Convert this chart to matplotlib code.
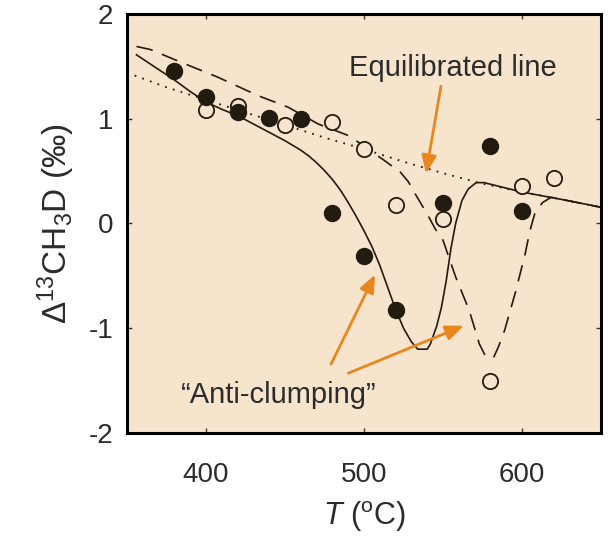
import numpy as np
import matplotlib
matplotlib.use('Agg')
from matplotlib import pyplot as plt

plt.rcParams['font.family'] = ['Liberation Sans', 'DejaVu Sans']
plt.rcParams['mathtext.fontset'] = 'custom'
plt.rcParams['mathtext.rm'] = 'Liberation Sans'
plt.rcParams['mathtext.it'] = 'Liberation Sans:italic'
plt.rcParams['axes.unicode_minus'] = False

# muestras medidas (T en C, D13CH3D en permil)
T_lleno = [380, 400, 420, 440, 460, 480, 500, 520, 550, 580, 600]
d_lleno = [1.46, 1.21, 1.06, 1.01, 1.00, 0.10, -0.31, -0.83, 0.20, 0.74, 0.12]
T_hueco = [400, 420, 450, 480, 500, 520, 550, 580, 600, 620]
d_hueco = [1.08, 1.12, 0.94, 0.97, 0.71, 0.18, 0.04, -1.50, 0.36, 0.43]

# linea de equilibrio
T_eq = [350, 375, 400, 425, 450, 475, 500, 525, 550, 575, 600, 625, 650]
d_eq = [1.44, 1.30, 1.18, 1.06, 0.94, 0.82, 0.71, 0.59, 0.48, 0.38, 0.30, 0.23, 0.155]

# modelo 1 (linea continua)
T_mod1 = [356, 370, 380, 390, 400, 410, 420, 430, 440, 450, 460, 465, 470, 475,
          480, 485, 490, 495, 500, 505, 510, 515, 520, 525, 530, 534, 540, 542,
          546, 549, 552, 555, 558, 562, 566, 571, 576, 600, 625, 650]
d_mod1 = [1.61, 1.47, 1.37, 1.26, 1.16, 1.09, 1.03, 0.95, 0.87, 0.79, 0.70, 0.645,
          0.58, 0.505, 0.42, 0.32, 0.20, 0.07, -0.07, -0.22, -0.40, -0.61, -0.82,
          -1.00, -1.13, -1.20, -1.20, -1.15, -0.98, -0.80, -0.55, -0.24, 0.00,
          0.22, 0.33, 0.39, 0.39, 0.30, 0.23, 0.155]

# modelo 2 (linea discontinua)
T_mod2 = [356, 365, 384, 407, 433, 452, 471, 490, 500, 513, 523, 528, 532.5, 540,
          545, 550, 558, 566.6, 573, 577, 582, 585, 589, 595.6, 602, 605, 608, 613,
          618.5, 625, 650]
d_mod2 = [1.69, 1.66, 1.54, 1.40, 1.22, 1.11, 0.95, 0.84, 0.74, 0.60, 0.49, 0.40,
          0.28, 0.09, -0.05, -0.16, -0.51, -0.83, -1.15, -1.27, -1.28, -1.18, -1.02,
          -0.67, -0.29, -0.07, 0.09, 0.20, 0.25, 0.23, 0.155]

fondo = '#F7E4CD'
oscuro = '#231A10'
naranja = '#E8871E'
texto = '#2B2B2B'

fig = plt.figure(figsize=(6.08, 5.36), dpi=100)
ax = fig.add_axes([0.2089, 0.1922, 0.7796, 0.7817])
ax.set_facecolor(fondo)

ax.plot(T_eq, d_eq, color=oscuro, lw=1.3, linestyle=(0, (1, 3.5)))
ax.plot(T_mod1, d_mod1, color=oscuro, lw=1.2)
ax.plot(T_mod2, d_mod2, color=oscuro, lw=1.2, linestyle=(0, (10, 6)))

ax.plot(T_hueco, d_hueco, 'o', ms=11, mfc=fondo, mec=oscuro, mew=1.3)
ax.plot(T_lleno, d_lleno, 'o', ms=11.5, mfc=oscuro, mec=oscuro)

ax.set_xlim(350, 650)
ax.set_ylim(-2, 2)
ax.set_xticks([400, 500, 600])
ax.set_yticks([-2, -1, 0, 1, 2])

for s in ax.spines.values():
    s.set_linewidth(2.2)
    s.set_color('black')

ax.tick_params(direction='in', length=3.6, width=1, color='#4A3520',
               top=True, right=True, labelsize=20, labelcolor=texto)
ax.tick_params(axis='x', pad=21)
ax.tick_params(axis='y', pad=10)

ax.set_xlabel(r'$T$ ($^{\rm o}$C)', fontsize=22, color=texto, labelpad=8)
ax.set_ylabel(r'$\Delta^{13}$CH$_3$D (‰)', fontsize=24, color=texto, labelpad=8)

flecha = dict(arrowstyle='-|>,head_length=0.6,head_width=0.25', color=naranja,
              lw=2, mutation_scale=18, shrinkA=0, shrinkB=0)
ax.annotate('', xy=(539.2, 0.478), xytext=(548.7, 1.31), arrowprops=flecha)
ax.annotate('', xy=(507, -0.488), xytext=(479.1, -1.343), arrowprops=flecha)
ax.annotate('', xy=(563.1, -0.976), xytext=(490.1, -1.429), arrowprops=flecha)

ax.text(556, 1.41, 'Equilibrated line', fontsize=21, color=texto,
        ha='center', va='baseline')
ax.text(446, -1.71, '\u201cAnti-clumping\u201d', fontsize=21, color=texto,
        ha='center', va='baseline')

fig.savefig('out.png', dpi=100)
